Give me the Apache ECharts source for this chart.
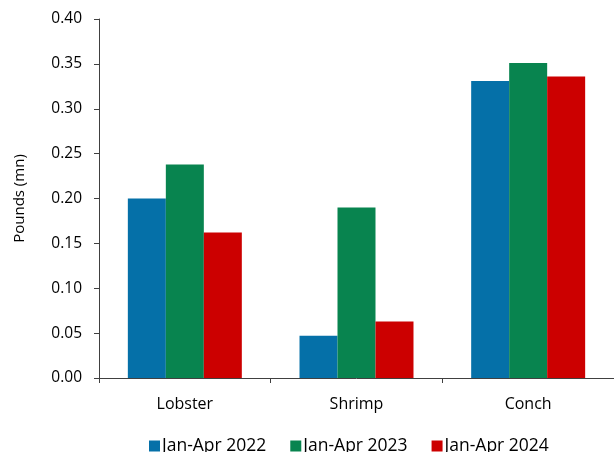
<!DOCTYPE html>
<html>
<head>
<meta charset="utf-8">
<script src="https://cdn.jsdelivr.net/npm/echarts@6/dist/echarts.min.js"></script>
<style>
  html, body { margin: 0; padding: 0; background: #fff; }
  #chart { width: 614px; height: 452px; }
</style>
</head>
<body>
<div id="chart"></div>
<script>
// Catch weight by species, Jan-Apr of each year (pounds, millions)
const categories = ['Lobster', 'Shrimp', 'Conch'];
const seriesNames = ['Jan-Apr 2022', 'Jan-Apr 2023', 'Jan-Apr 2024'];
const values2022 = [0.200, 0.047, 0.331];
const values2023 = [0.238, 0.190, 0.351];
const values2024 = [0.162, 0.063, 0.336];
const yTicks = { min: 0, max: 0.40, step: 0.05 };

const colors = ['#0570A8', '#08844F', '#CC0000'];
const font = '"Open Sans", "Noto Sans", sans-serif';

const chart = echarts.init(document.getElementById('chart'), null, { renderer: 'canvas' });

const dataSets = [values2022, values2023, values2024];

chart.setOption({
  animation: false,
  textStyle: { fontFamily: font },
  grid: { left: 99, right: 0, top: 19, bottom: 74, containLabel: false },
  legend: {
    top: 432,
    left: 144,
    itemWidth: 11,
    itemHeight: 11,
    itemGap: 24,
    icon: 'rect',
    textStyle: { fontSize: 17.5, color: '#000', fontFamily: font, padding: [0, 0, 0, -3] },
    data: seriesNames
  },
  xAxis: {
    type: 'category',
    data: categories,
    axisLine: { lineStyle: { color: '#404040', width: 1 } },
    axisTick: { show: true, alignWithLabel: false, length: 5, lineStyle: { color: '#404040' } },
    axisLabel: { fontSize: 16, color: '#000', margin: 18, fontFamily: font }
  },
  yAxis: {
    type: 'value',
    min: yTicks.min,
    max: yTicks.max,
    interval: yTicks.step,
    name: 'Pounds (mn)',
    nameLocation: 'middle',
    nameGap: 72,
    nameRotate: 90,
    nameTextStyle: { fontSize: 15, color: '#000', fontFamily: font },
    axisLine: { show: true, lineStyle: { color: '#404040', width: 1 } },
    axisTick: { show: true, length: 5, lineStyle: { color: '#404040' } },
    splitLine: { show: false },
    axisLabel: {
      fontSize: 15.5, color: '#000', margin: 17, fontFamily: font,
      formatter: v => v.toFixed(2)
    }
  },
  series: seriesNames.map((name, i) => ({
    name,
    type: 'bar',
    data: dataSets[i],
    barGap: '0%',
    barCategoryGap: '33.6%',
    itemStyle: { color: colors[i] }
  }))
});
</script>
</body>
</html>
